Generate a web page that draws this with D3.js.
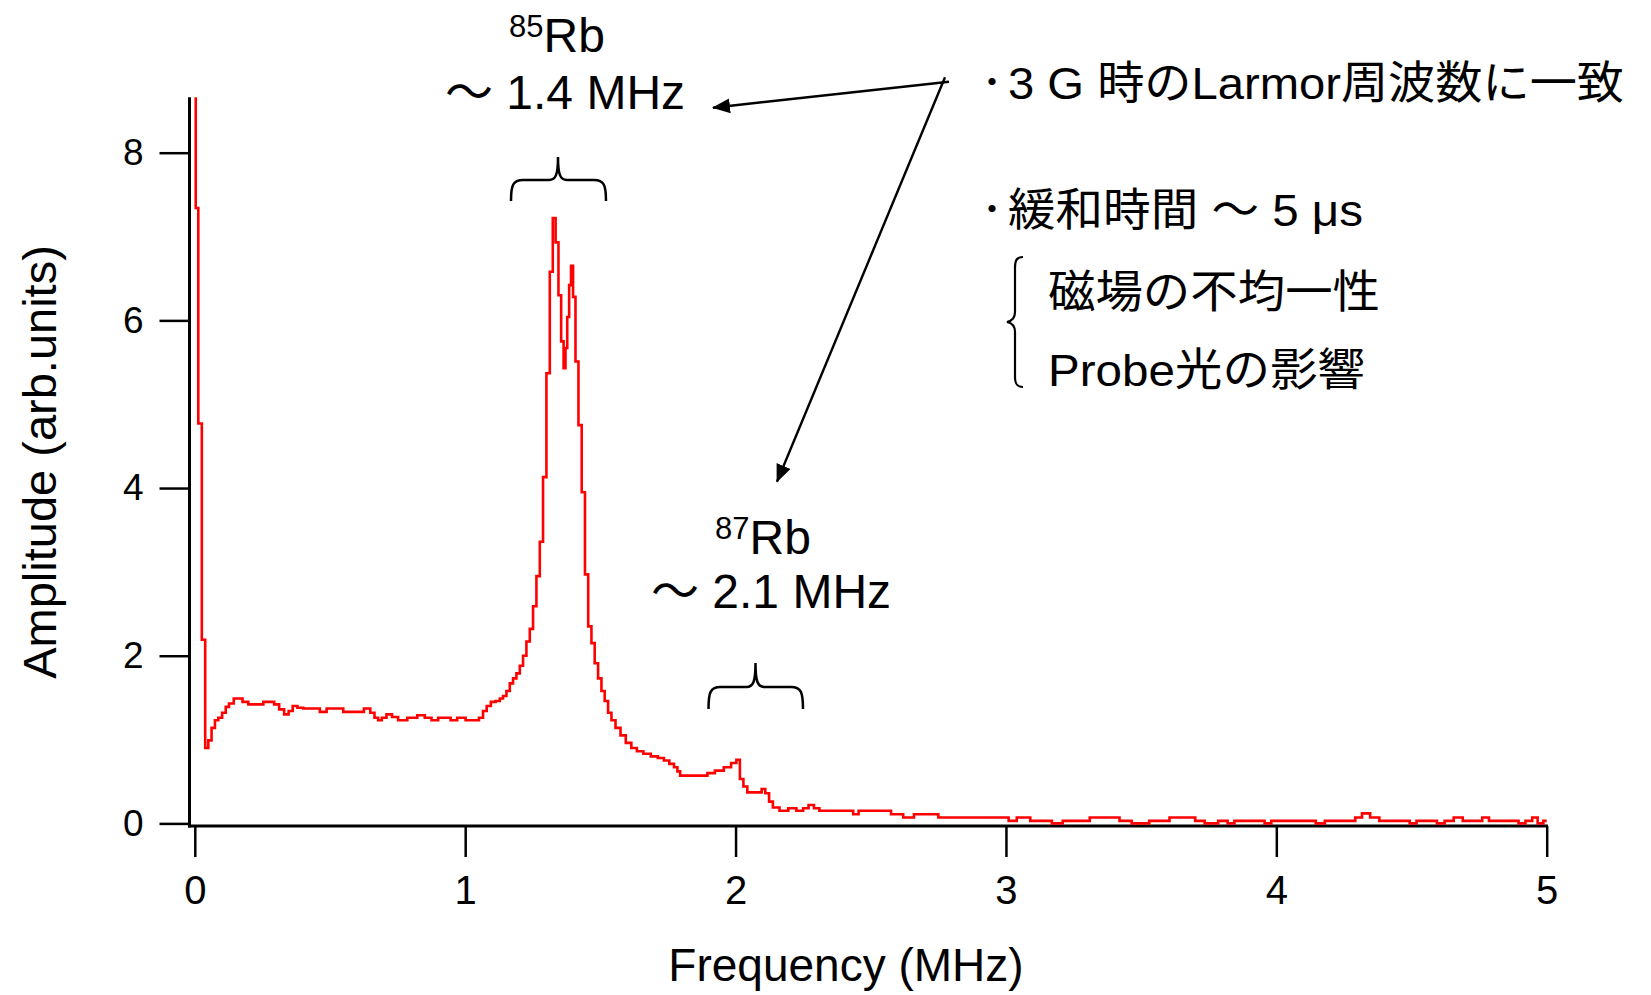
<!DOCTYPE html>
<html>
<head>
<meta charset="utf-8">
<script src="https://cdn.jsdelivr.net/npm/d3@7"></script>
<style>
  html, body { margin: 0; padding: 0; background: #fff; }
  svg { display: block; }
</style>
</head>
<body>
<div id="chart"></div>
<script>
// FFT spectrum of the Larmor precession signal
var freq = [0.000, 0.007, 0.019, 0.033, 0.044, 0.056, 0.068, 0.081, 0.093, 0.109,
  0.120, 0.133, 0.155, 0.167, 0.186, 0.210, 0.241, 0.266, 0.284, 0.303,
  0.321, 0.340, 0.354, 0.370, 0.389, 0.413, 0.450, 0.475, 0.500, 0.537,
  0.561, 0.610, 0.641, 0.657, 0.672, 0.684, 0.699, 0.719, 0.740, 0.764,
  0.808, 0.838, 0.863, 0.888, 0.912, 0.937, 0.955, 0.986, 1.017, 1.042,
  1.060, 1.072, 1.087, 1.103, 1.122, 1.134, 1.146, 1.159, 1.171, 1.183,
  1.196, 1.208, 1.220, 1.233, 1.245, 1.257, 1.270, 1.282, 1.294, 1.307,
  1.319, 1.329, 1.340, 1.350, 1.360, 1.368, 1.374, 1.381, 1.388, 1.395,
  1.403, 1.413, 1.425, 1.437, 1.449, 1.461, 1.473, 1.485, 1.498, 1.510,
  1.522, 1.535, 1.547, 1.565, 1.584, 1.604, 1.625, 1.645, 1.673, 1.700,
  1.725, 1.745, 1.765, 1.780, 1.790, 1.800, 1.886, 1.906, 1.941, 1.972,
  1.995, 2.011, 2.021, 2.037, 2.050, 2.090, 2.103, 2.117, 2.131, 2.145,
  2.180, 2.210, 2.240, 2.260, 2.280, 2.300, 2.320, 2.430, 2.440, 2.470,
  2.550, 2.600, 2.640, 2.680, 2.740, 2.760, 3.000, 3.020, 3.060, 3.120,
  3.160, 3.180, 3.240, 3.290, 3.330, 3.400, 3.440, 3.490, 3.570, 3.640,
  3.690, 3.710, 3.760, 3.810, 3.830, 3.860, 3.945, 3.968, 3.995, 4.129,
  4.163, 4.196, 4.280, 4.304, 4.330, 4.364, 4.398, 4.482, 4.505, 4.532,
  4.582, 4.606, 4.639, 4.673, 4.706, 4.750, 4.773, 4.800, 4.884, 4.908,
  4.935, 4.958, 4.975, 5.000];
var amp = [10.0, 7.34, 4.77, 2.19, 0.90, 0.99, 1.14, 1.23, 1.26, 1.32,
  1.39, 1.43, 1.49, 1.49, 1.45, 1.42, 1.42, 1.45, 1.45, 1.42,
  1.36, 1.30, 1.34, 1.40, 1.38, 1.37, 1.37, 1.33, 1.37, 1.37,
  1.33, 1.33, 1.37, 1.32, 1.26, 1.23, 1.26, 1.30, 1.27, 1.23,
  1.26, 1.29, 1.26, 1.23, 1.26, 1.26, 1.23, 1.26, 1.23, 1.23,
  1.26, 1.34, 1.40, 1.45, 1.46, 1.49, 1.52, 1.58, 1.67, 1.73,
  1.79, 1.88, 2.00, 2.17, 2.32, 2.59, 2.95, 3.36, 4.13, 5.37,
  6.58, 7.22, 6.93, 6.30, 5.75, 5.43, 5.67, 6.04, 6.42, 6.65,
  6.28, 5.51, 4.75, 3.95, 2.97, 2.35, 2.15, 1.91, 1.73, 1.58,
  1.46, 1.32, 1.23, 1.14, 1.05, 0.96, 0.90, 0.86, 0.83, 0.80,
  0.78, 0.75, 0.71, 0.67, 0.62, 0.57, 0.57, 0.60, 0.63, 0.67,
  0.72, 0.76, 0.53, 0.44, 0.37, 0.37, 0.41, 0.36, 0.26, 0.19,
  0.15, 0.18, 0.15, 0.18, 0.22, 0.18, 0.15, 0.15, 0.11, 0.15,
  0.15, 0.11, 0.07, 0.11, 0.11, 0.07, 0.07, 0.03, 0.07, 0.03,
  0.03, 0.00, 0.03, 0.03, 0.07, 0.07, 0.03, 0.00, 0.03, 0.07,
  0.07, 0.03, 0.00, 0.03, 0.00, 0.03, 0.03, 0.00, 0.03, 0.03,
  0.00, 0.03, 0.03, 0.07, 0.12, 0.07, 0.03, 0.03, 0.00, 0.03,
  0.03, 0.00, 0.03, 0.07, 0.03, 0.03, 0.07, 0.03, 0.03, 0.00,
  0.03, 0.07, 0.00, 0.03];

var xTicks = [0, 1, 2, 3, 4, 5];
var yTicks = [0, 2, 4, 6, 8];
var xTitle = "Frequency (MHz)";
var yTitle = "Amplitude (arb.units)";
var notes = ["3 G 時のLarmor周波数に一致", "緩和時間 ～ 5 μs", "磁場の不均一性", "Probe光の影響"];

var width = 1651, height = 995;
var LATIN = '"Liberation Sans", Arial, "Noto Sans CJK JP", sans-serif';
var LINE_COLOR = '#ff0000';

var svg = d3.select("#chart").append("svg")
  .attr("width", width)
  .attr("height", height);

var x = d3.scaleLinear().domain([0, 5]).range([194.8, 1546.7]);
var y = d3.scaleLinear().domain([0, 8]).range([823.4, 152.7]);
var plotTop = y(8.66);

svg.append("defs").append("clipPath")
  .attr("id", "plotclip")
  .append("rect")
  .attr("x", 189)
  .attr("y", plotTop)
  .attr("width", 1365)
  .attr("height", 830 - plotTop);

// axes
var yAxis = svg.append("g")
  .attr("transform", "translate(189.5,0)")
  .call(d3.axisLeft(y).tickValues(yTicks).tickSize(30).tickPadding(16).tickFormat(d3.format("d")));
yAxis.select(".domain").remove();
yAxis.selectAll("line").attr("stroke", "#000").attr("stroke-width", 2.5);
yAxis.selectAll("text")
  .attr("fill", "#000")
  .style("font-family", LATIN)
  .style("font-size", "37px");

var xAxis = svg.append("g")
  .attr("transform", "translate(0,826)")
  .call(d3.axisBottom(x).tickValues(xTicks).tickSize(31).tickPadding(19).tickFormat(d3.format("d")));
xAxis.select(".domain").remove();
xAxis.selectAll("line").attr("stroke", "#000").attr("stroke-width", 2.5);
xAxis.selectAll("text")
  .attr("fill", "#000")
  .style("font-family", LATIN)
  .style("font-size", "40px");

svg.append("line")
  .attr("x1", 189.5).attr("x2", 189.5)
  .attr("y1", plotTop).attr("y2", 827.5)
  .attr("stroke", "#000").attr("stroke-width", 3);

svg.append("line")
  .attr("x1", 188).attr("x2", 1548)
  .attr("y1", 826).attr("y2", 826)
  .attr("stroke", "#000").attr("stroke-width", 3);

svg.append("text")
  .attr("x", 846)
  .attr("y", 981)
  .attr("text-anchor", "middle")
  .style("font-family", LATIN)
  .style("font-size", "46px")
  .text(xTitle);

svg.append("text")
  .attr("transform", "translate(56,462) rotate(-90)")
  .attr("text-anchor", "middle")
  .style("font-family", LATIN)
  .style("font-size", "47px")
  .text(yTitle);

// spectrum
var line = d3.line()
  .x(function(d, i) { return x(freq[i]); })
  .y(function(d) { return y(d); })
  .curve(d3.curveStep);

svg.append("path")
  .datum(amp)
  .attr("clip-path", "url(#plotclip)")
  .attr("d", line)
  .attr("fill", "none")
  .attr("stroke", LINE_COLOR)
  .attr("stroke-width", 2.6)
  .attr("stroke-linejoin", "miter");

// annotations
function isotope(xp, yp, mass) {
  var t = svg.append("text")
    .attr("x", xp)
    .attr("y", yp)
    .style("font-family", LATIN);
  t.append("tspan").attr("font-size", 31).attr("dy", -15).text(mass);
  t.append("tspan").attr("font-size", 48).attr("dy", 15).text("Rb");
}

function freqLabel(xp, yp, s) {
  svg.append("text")
    .attr("x", xp)
    .attr("y", yp)
    .style("font-family", LATIN)
    .style("font-size", "48px")
    .text(s);
}

isotope(509, 52, "85");
freqLabel(445, 109, "～ 1.4 MHz");
isotope(715, 554, "87");
freqLabel(651, 608, "～ 2.1 MHz");

function hBrace(x1, x2, xc, yB, yM, yT) {
  return "M" + x1 + "," + yB +
    " C" + x1 + "," + (yM + 5) + " " + (x1 + 2) + "," + yM + " " + (x1 + 12) + "," + yM +
    " L" + (xc - 9) + "," + yM +
    " C" + (xc - 2) + "," + yM + " " + xc + "," + (yM - 6) + " " + xc + "," + yT +
    " C" + xc + "," + (yM - 6) + " " + (xc + 2) + "," + yM + " " + (xc + 9) + "," + yM +
    " L" + (x2 - 12) + "," + yM +
    " C" + (x2 - 2) + "," + yM + " " + x2 + "," + (yM + 5) + " " + x2 + "," + yB;
}

svg.append("path")
  .attr("d", hBrace(511, 606, 558, 201, 180, 157))
  .attr("fill", "none").attr("stroke", "#000").attr("stroke-width", 2.5);

svg.append("path")
  .attr("d", hBrace(708.5, 803, 755.5, 709, 687, 663))
  .attr("fill", "none").attr("stroke", "#000").attr("stroke-width", 2.5);

// vertical brace in front of the two causes
svg.append("path")
  .attr("d", "M1023,257 C1017,257 1015,260 1015,268 L1015,312 C1015,318 1012,321 1007,322" +
    " C1012,323 1015,326 1015,332 L1015,377 C1015,384 1017,387 1023,387")
  .attr("fill", "none").attr("stroke", "#000").attr("stroke-width", 2.2);

// arrows
svg.append("defs").append("marker")
  .attr("id", "head")
  .attr("viewBox", "0 -8 18 16")
  .attr("refX", 17)
  .attr("refY", 0)
  .attr("markerUnits", "userSpaceOnUse")
  .attr("markerWidth", 18)
  .attr("markerHeight", 16)
  .attr("orient", "auto")
  .append("path")
  .attr("d", "M0,-7.5L18,0L0,7.5Z")
  .attr("fill", "#000");

svg.append("line")
  .attr("x1", 949).attr("y1", 81.7)
  .attr("x2", 713).attr("y2", 107.7)
  .attr("stroke", "#000").attr("stroke-width", 2.4)
  .attr("marker-end", "url(#head)");

svg.append("line")
  .attr("x1", 945).attr("y1", 77.3)
  .attr("x2", 777).attr("y2", 481.7)
  .attr("stroke", "#000").attr("stroke-width", 2.4)
  .attr("marker-end", "url(#head)");

// notes on the right
var noteRows = [
  { x: 1008, y: 99, w: 616, bullet: true },
  { x: 1008, y: 226, w: 355, bullet: true },
  { x: 1048, y: 308, w: 332, bullet: false },
  { x: 1048, y: 386, w: 317, bullet: false }
];

noteRows.forEach(function(r, i) {
  if (r.bullet) {
    svg.append("text")
      .attr("x", 978)
      .attr("y", r.y - 6)
      .style("font-family", '"Noto Sans CJK JP", sans-serif')
      .style("font-size", "28px")
      .style("font-weight", "bold")
      .text("・");
  }
  svg.append("text")
    .attr("x", r.x)
    .attr("y", r.y)
    .attr("textLength", r.w)
    .attr("lengthAdjust", "spacingAndGlyphs")
    .style("font-family", LATIN)
    .style("font-size", "45px")
    .text(notes[i]);
});
</script>
</body>
</html>
